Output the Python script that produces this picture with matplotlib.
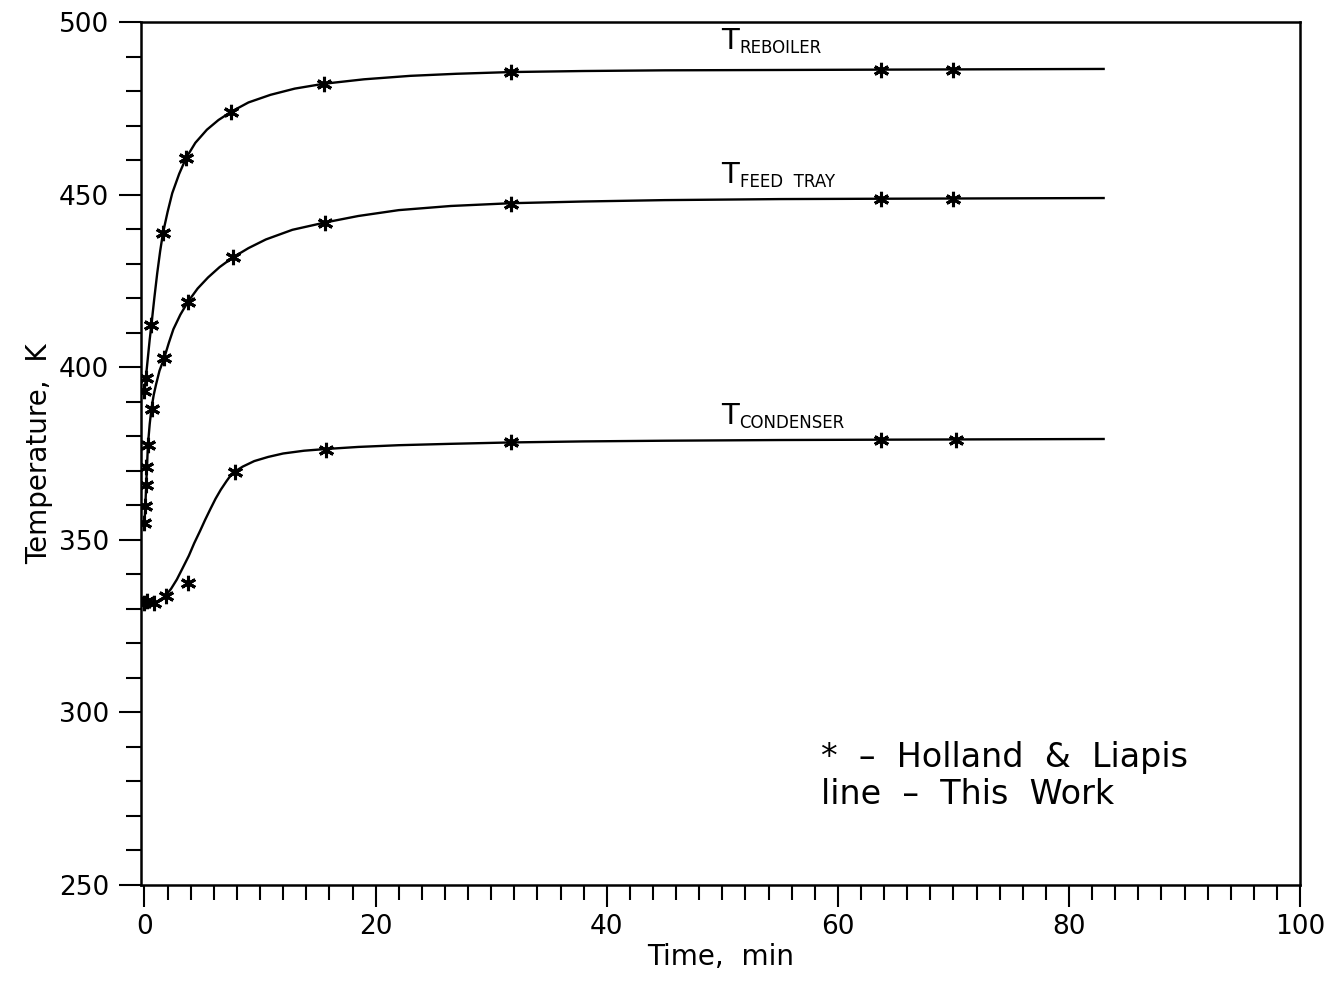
import matplotlib
matplotlib.use('Agg')
import matplotlib.pyplot as plt
import numpy as np

plt.rcParams['font.family'] = 'DejaVu Sans'

# Holland & Liapis points (markers)
reb_t = [0.0, 0.15, 0.6, 1.6, 3.6, 7.5, 15.5, 31.7, 63.7, 70.0]
reb_T = [393.0, 397.0, 412.3, 438.9, 460.6, 474.0, 482.1, 485.5, 486.1, 486.1]

feed_t = [0.0, 0.05, 0.1, 0.15, 0.3, 0.65, 1.7, 3.75, 7.65, 15.6, 31.7, 63.7, 70.0]
feed_T = [355.0, 359.8, 366.0, 371.0, 377.6, 387.9, 402.6, 418.9, 431.8, 441.9, 447.3, 448.8, 448.8]

cond_t = [0.0, 0.2, 0.8, 1.9, 3.8, 7.8, 15.7, 31.7, 63.7, 70.2]
cond_T = [331.8, 332.3, 331.8, 333.7, 337.6, 369.5, 376.1, 378.2, 379.0, 379.0]

# this work (lines)
reb_line_t = [0.0, 0.15, 0.3, 0.45, 0.6, 0.85, 1.1, 1.35, 1.6, 2.0, 2.4, 3.0, 3.6, 4.4, 5.4, 6.4,
              7.5, 9.0, 10.9, 13.0, 15.5, 19.0, 23.0, 27.0, 31.7, 38.0, 45.0, 55.0, 63.7, 83.0]
reb_line_T = [393.0, 398.0, 403.0, 408.0, 412.3, 420.0, 427.2, 433.5, 438.9, 445.0, 450.4, 456.0, 460.6, 465.0, 468.8, 471.6,
              474.0, 476.7, 478.9, 480.7, 482.1, 483.4, 484.4, 485.0, 485.5, 485.8, 486.0, 486.1, 486.2, 486.4]

feed_line_t = [0.0, 0.1, 0.2, 0.3, 0.45, 0.6, 0.8, 1.0, 1.3, 1.7, 2.1, 2.5, 3.1, 3.75, 4.6, 5.5, 6.5,
               7.65, 9.0, 10.5, 12.8, 15.6, 18.5, 22.0, 26.5, 31.7, 38.0, 45.0, 55.0, 63.7, 83.0]
feed_line_T = [355.0, 362.0, 370.0, 377.6, 383.5, 388.0, 392.0, 395.0, 399.0, 402.6, 407.0, 411.0, 415.2, 418.9, 422.8, 426.0, 429.0,
               431.8, 434.5, 437.0, 439.8, 441.9, 443.8, 445.5, 446.7, 447.5, 448.0, 448.4, 448.7, 448.8, 449.0]

cond_line_t = [0.0, 1.0, 1.4, 1.8, 2.3, 2.8, 3.3, 3.84, 4.3, 4.8, 5.25, 5.7, 6.15, 6.6, 7.1, 7.6, 8.5,
               9.5, 10.7, 12.0, 13.8, 15.7, 18.5, 22.0, 26.5, 31.7, 38.0, 45.0, 55.0, 63.7, 83.0]
cond_line_T = [331.5, 331.8, 332.5, 333.7, 335.8, 338.5, 341.8, 345.4, 349.0, 352.5, 355.8, 358.9, 361.9, 364.5, 367.0, 369.3, 371.2,
               372.8, 374.0, 375.0, 375.8, 376.3, 376.9, 377.4, 377.8, 378.2, 378.5, 378.7, 378.9, 379.0, 379.2]

fig = plt.figure(figsize=(13.33, 9.82), dpi=100)
ax = fig.add_axes([0.1058, 0.0988, 0.8695, 0.8788])

star = (6, 2, 0)
for lt, lT in [(reb_line_t, reb_line_T), (feed_line_t, feed_line_T), (cond_line_t, cond_line_T)]:
    ax.plot(lt, lT, color='black', linewidth=1.7, solid_joinstyle='round')
for mt, mT in [(reb_t, reb_T), (feed_t, feed_T), (cond_t, cond_T)]:
    ax.plot(mt, mT, linestyle='none', marker=star, markersize=11,
            markeredgewidth=2.2, color='black')

# curve labels
ax.text(49.9, 492.2, 'T', fontsize=21)
ax.text(51.5, 491.0, 'REBOILER', fontsize=12)
ax.text(49.9, 453.4, 'T', fontsize=21)
ax.text(51.5, 452.3, 'FEED  TRAY', fontsize=12)
ax.text(49.9, 383.4, 'T', fontsize=21)
ax.text(51.5, 382.4, 'CONDENSER', fontsize=12)

# key
ax.text(58.5, 284.1, '*  \u2013  Holland  &  Liapis', fontsize=24)
ax.text(58.5, 273.4, 'line  \u2013  This  Work', fontsize=24)

ax.set_xlim(-0.3, 100)
ax.set_ylim(250, 500)
ax.set_xticks(np.arange(0, 101, 20))
ax.set_xticks(np.arange(0, 101, 2), minor=True)
ax.set_yticks(np.arange(250, 501, 50))
ax.set_yticks(np.arange(250, 501, 10), minor=True)
ax.tick_params(which='major', direction='out', length=16, width=1.5, labelsize=19, pad=5)
ax.tick_params(which='minor', direction='out', length=11, width=1.5)
ax.tick_params(axis='y', which='major', pad=7)
for s in ax.spines.values():
    s.set_linewidth(1.8)

ax.set_xlabel('Time,  min', fontsize=20, labelpad=2)
ax.set_ylabel('Temperature,  K', fontsize=20, labelpad=4)

plt.savefig('out.png', dpi=100)
print('Done')
